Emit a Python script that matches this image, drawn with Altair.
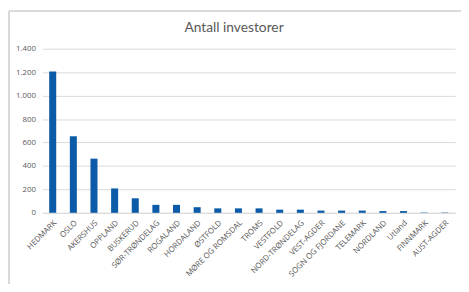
import altair as alt
import pandas as pd

regions = ["HEDMARK", "OSLO", "AKERSHUS", "OPPLAND", "BUSKERUD", "SØR-TRØNDELAG",
           "ROGALAND", "HORDALAND", "ØSTFOLD", "MØRE OG ROMSDAL", "TROMS", "VESTFOLD",
           "NORD-TRØNDELAG", "VEST-AGDER", "SOGN OG FJORDANE", "TELEMARK", "NORDLAND",
           "Utland", "FINNMARK", "AUST-AGDER"]
investors = [1205, 653, 462, 208, 124, 68, 68, 48, 38, 38, 38, 27, 27, 19, 19, 19, 15, 15, 3, 3]
title_text = ["Antall investorer"]

df = pd.DataFrame({"region": regions, "count": investors})
tdf = pd.DataFrame({"t": title_text})

gray_txt = "#595959"
grid = "#d9d9d9"

bars = alt.Chart(df).mark_bar(color="#0b5ba8").encode(
    x=alt.X("region:N", sort=regions, title=None,
            scale=alt.Scale(paddingInner=0.66, paddingOuter=0.33),
            axis=alt.Axis(labelAngle=-45, labelFontSize=8, labelColor=gray_txt,
                          labelFont="Open Sans", ticks=False, domainColor=grid,
                          labelPadding=6, grid=False)),
    y=alt.Y("count:Q", title=None,
            scale=alt.Scale(domain=[0, 1400]),
            axis=alt.Axis(values=[0, 200, 400, 600, 800, 1000, 1200, 1400],
                          labelExpr="replace(format(datum.value, ','), ',', '.')",
                          labelFontSize=8, labelColor=gray_txt, labelFont="Open Sans",
                          ticks=False, domain=False, gridColor=grid, labelPadding=7)),
)

title = alt.Chart(tdf).mark_text(fontSize=14, font="Lato", color=gray_txt,
                                  align="center", baseline="alphabetic").encode(
    text="t:N", x=alt.value(195), y=alt.value(-17)
)

border = alt.Chart(df).mark_rule(color="#d9d9d9", strokeWidth=1.5).encode(
    x=alt.value(-34), y=alt.value(-38), y2=alt.value(260)
)
border_top = alt.Chart(df).mark_rule(color="#d9d9d9", strokeWidth=1.5).encode(
    x=alt.value(-34), x2=alt.value(470), y=alt.value(-38)
)

chart = alt.layer(bars, title, border, border_top).properties(
    width=420, height=167,
    autosize=alt.AutoSizeParams(type="none"),
    padding={"left": 35, "top": 39, "right": 6, "bottom": 70},
).configure_view(stroke=None)

chart.save("out.html", embed_options={"renderer": "svg", "actions": False})
